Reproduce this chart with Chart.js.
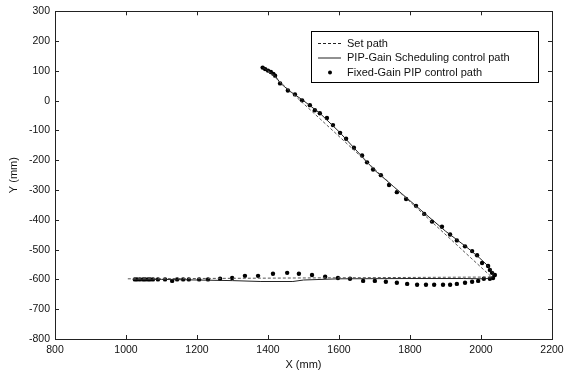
<!DOCTYPE html>
<html>
<head>
<meta charset="utf-8">
<script src="https://cdn.jsdelivr.net/npm/chart.js@4/dist/chart.umd.min.js"></script>
<style>
html,body{margin:0;padding:0;background:#fff;}
#c{display:block;}
</style>
</head>
<body>
<canvas id="c" width="577" height="378"></canvas>
<script>
// ---- data (mm) ----
const xTicks = [800, 1000, 1200, 1400, 1600, 1800, 2000, 2200];
const yTicks = [300, 200, 100, 0, -100, -200, -300, -400, -500, -600, -700, -800];

const legendLabels = ["Set path", "PIP-Gain Scheduling control path", "Fixed-Gain PIP control path"];
const xTitle = "X (mm)";
const yTitle = "Y (mm)";

// Set path
const setX = [1400, 2030, 1005];
const setY = [100, -592, -598];

// PIP-Gain Scheduling control path
const gsX = [1385, 1400, 1420, 1434, 1460, 1500, 1546, 1600, 1700, 1800, 1900, 1960, 1995, 2020, 2035, 2030, 2010, 1950, 1800, 1600, 1500, 1470, 1380, 1300, 1200, 1100, 1020];
const gsY = [111, 101, 84, 60, 33, 0, -42, -104, -233, -336, -438, -492, -527, -555, -580, -595, -598, -597, -597, -598, -602, -607, -607, -604, -602, -600, -600];

// Fixed-Gain PIP control path (points)
const fgX = [1385, 1392, 1400, 1408, 1415, 1420, 1434, 1456, 1476, 1496, 1518, 1532, 1546, 1566, 1583, 1603, 1620, 1642, 1665, 1679, 1696, 1718, 1741, 1763, 1789, 1817, 1840, 1862, 1890, 1913, 1932, 1955, 1975, 1989, 2003, 2020, 2025, 2031, 2039, 2034, 2025,
  2008, 1992, 1975, 1955, 1932, 1913, 1893, 1868, 1845, 1820, 1792, 1763, 1732, 1701, 1668, 1631, 1597, 1561, 1524, 1487, 1454, 1414, 1372, 1335, 1299, 1265, 1231, 1206, 1177, 1161, 1144, 1130, 1110, 1090, 1076, 1068, 1062, 1054, 1048, 1039, 1031, 1025];
const fgY = [111, 106, 101, 96, 90, 84, 58, 34, 21, 1, -15, -32, -42, -58, -82, -108, -128, -158, -184, -207, -231, -250, -283, -307, -330, -353, -380, -406, -423, -449, -469, -489, -505, -519, -545, -555, -568, -578, -585, -595, -598,
  -598, -605, -608, -611, -615, -618, -618, -618, -618, -618, -615, -611, -608, -605, -605, -598, -595, -591, -585, -581, -578, -581, -588, -588, -595, -598, -600, -600, -600, -600, -600, -605, -600, -600, -600, -600, -600, -600, -600, -600, -600, -600];

const pts = (xs, ys) => xs.map((x, i) => ({x: x, y: ys[i]}));

const FONT = "'Liberation Sans', Arial, sans-serif";

const framePlugin = {
  id: 'frame',
  afterDraw(chart) {
    const ctx = chart.ctx;
    const a = chart.chartArea;
    const xs = chart.scales.x, ys = chart.scales.y;
    ctx.save();
    ctx.strokeStyle = '#222';
    ctx.lineWidth = 1;
    ctx.strokeRect(Math.round(a.left) + 0.5, Math.round(a.top) + 0.5, Math.round(a.right - a.left), Math.round(a.bottom - a.top));
    const tl = 4;
    ctx.beginPath();
    xTicks.forEach(v => {
      const px = Math.round(xs.getPixelForValue(v)) + 0.5;
      ctx.moveTo(px, a.bottom); ctx.lineTo(px, a.bottom - tl);
      ctx.moveTo(px, a.top); ctx.lineTo(px, a.top + tl);
    });
    yTicks.forEach(v => {
      const py = Math.round(ys.getPixelForValue(v)) + 0.5;
      ctx.moveTo(a.left, py); ctx.lineTo(a.left + tl, py);
      ctx.moveTo(a.right, py); ctx.lineTo(a.right - tl, py);
    });
    ctx.stroke();

    // axis titles
    ctx.fillStyle = '#111';
    ctx.font = '11px ' + FONT;
    ctx.textAlign = 'center';
    ctx.textBaseline = 'middle';
    ctx.fillText(xTitle, (a.left + a.right) / 2, 365);
    ctx.save();
    ctx.translate(14, (a.top + a.bottom) / 2);
    ctx.rotate(-Math.PI / 2);
    ctx.fillText(yTitle, 0, 0);
    ctx.restore();

    // legend
    const bx = 311.5, by = 31.5, bw = 227, bh = 51;
    ctx.fillStyle = '#fff';
    ctx.fillRect(bx, by, bw, bh);
    ctx.strokeStyle = '#000';
    ctx.strokeRect(bx, by, bw, bh);
    const rows = [43, 57.5, 72];
    ctx.beginPath();
    ctx.setLineDash([3, 2]);
    ctx.strokeStyle = '#222';
    ctx.moveTo(318, rows[0] + 0.5); ctx.lineTo(341, rows[0] + 0.5);
    ctx.stroke();
    ctx.setLineDash([]);
    ctx.beginPath();
    ctx.moveTo(318, rows[1] + 0.5); ctx.lineTo(341, rows[1] + 0.5);
    ctx.stroke();
    ctx.beginPath();
    ctx.fillStyle = '#000';
    ctx.arc(330, rows[2] + 0.5, 2, 0, Math.PI * 2);
    ctx.fill();
    ctx.fillStyle = '#111';
    ctx.textAlign = 'left';
    legendLabels.forEach((t, i) => ctx.fillText(t, 347, rows[i] + 0.5));
    ctx.restore();
  }
};

new Chart(document.getElementById('c'), {
  type: 'scatter',
  data: {
    datasets: [
      {label: legendLabels[0], data: pts(setX, setY), showLine: true, pointRadius: 0, borderColor: '#555', borderWidth: 1, borderDash: [3, 2], fill: false},
      {label: legendLabels[1], data: pts(gsX, gsY), showLine: true, pointRadius: 0, borderColor: '#222', borderWidth: 1, fill: false},
      {label: legendLabels[2], data: pts(fgX, fgY), showLine: false, pointRadius: 2.2, pointBorderWidth: 0, backgroundColor: '#000', borderColor: '#000'}
    ]
  },
  options: {
    responsive: false,
    animation: false,
    devicePixelRatio: 1,
    layout: {padding: {top: 7, right: 25, bottom: 0, left: 0}},
    plugins: {legend: {display: false}, tooltip: {enabled: false}},
    scales: {
      x: {
        type: 'linear', min: 800, max: 2200,
        afterBuildTicks: s => { s.ticks = xTicks.map(v => ({value: v})); },
        afterFit: s => { s.height = 39; },
        grid: {display: false, drawTicks: false, tickLength: 0},
        border: {display: false},
        ticks: {padding: 5, color: '#111', font: {family: FONT, size: 10.5}, maxRotation: 0, autoSkip: false, callback: v => String(v)}
      },
      y: {
        type: 'linear', min: -800, max: 300,
        afterBuildTicks: s => { s.ticks = yTicks.map(v => ({value: v})); },
        afterFit: s => { s.width = 55; },
        grid: {display: false, drawTicks: false, tickLength: 0},
        border: {display: false},
        ticks: {padding: 5, color: '#111', font: {family: FONT, size: 10.5}, autoSkip: false, callback: v => String(v)}
      }
    }
  },
  plugins: [framePlugin]
});
</script>
</body>
</html>
